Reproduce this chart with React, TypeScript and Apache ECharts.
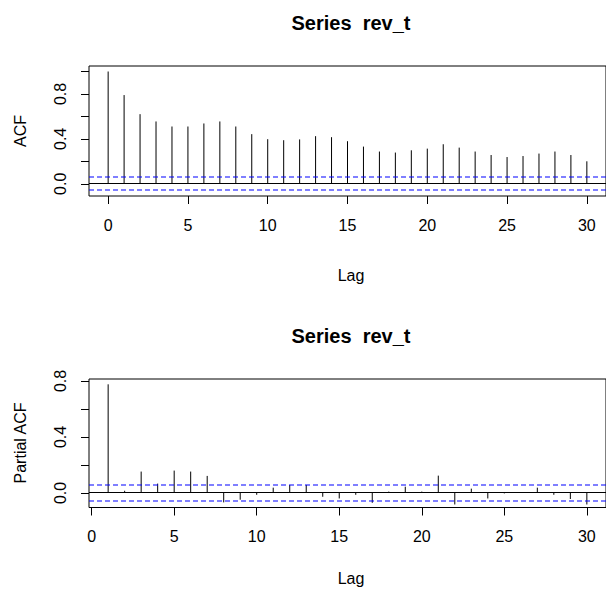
import React, { useEffect, useRef } from "react";
import * as echarts from "echarts";

const acfLags = [0, 1, 2, 3, 4, 5, 6, 7, 8, 9, 10, 11, 12, 13, 14, 15, 16, 17, 18, 19, 20, 21, 22, 23, 24, 25, 26, 27, 28, 29, 30];
const acfValues = [1.0, 0.79, 0.62, 0.555, 0.51, 0.51, 0.537, 0.555, 0.51, 0.442, 0.397, 0.388, 0.395, 0.424, 0.415, 0.379, 0.331, 0.287, 0.278, 0.298, 0.313, 0.352, 0.322, 0.287, 0.256, 0.238, 0.247, 0.269, 0.287, 0.256, 0.2];
const pacfLags = [1, 2, 3, 4, 5, 6, 7, 8, 9, 10, 11, 12, 13, 14, 15, 16, 17, 18, 19, 20, 21, 22, 23, 24, 25, 26, 27, 28, 29, 30];
const pacfValues = [0.776, 0.016, 0.153, 0.067, 0.16, 0.153, 0.122, -0.067, -0.048, -0.013, 0.038, 0.057, 0.057, -0.027, -0.039, -0.013, -0.07, 0.01, 0.045, 0.01, 0.124, -0.082, 0.031, -0.039, -0.003, 0.004, 0.038, -0.013, -0.043, -0.082];
const ciBound = 0.06;
const xTickValues = [0, 5, 10, 15, 20, 25, 30];
const acfYTicks = [0, 0.2, 0.4, 0.6, 0.8, 1.0];
const pacfYTicks = [0, 0.2, 0.4, 0.6, 0.8];
const yLabelValues = [0, 0.4, 0.8];
const titleText = "Series  rev_t";

const FONT = "'Liberation Sans', Arial, Helvetica, sans-serif";

function stemRender(params: any, api: any) {
  const x = api.value(0);
  const y = api.value(1);
  const p0 = api.coord([x, 0]);
  const p1 = api.coord([x, y]);
  return {
    type: "line",
    shape: { x1: p0[0], y1: p0[1], x2: p1[0], y2: p1[1] },
    style: { stroke: "#000", lineWidth: 1 },
  };
}

function makeXAxis(gridIndex: number, min: number, max: number) {
  return {
    type: "value",
    gridIndex,
    min,
    max,
    position: "bottom",
    axisLine: { show: false, onZero: false },
    splitLine: { show: false },
    axisTick: {
      show: true,
      inside: false,
      length: 8,
      customValues: xTickValues,
      lineStyle: { color: "#000", width: 1 },
    },
    axisLabel: {
      show: true,
      customValues: xTickValues,
      margin: 21,
      fontSize: 16,
      fontFamily: FONT,
      color: "#000",
      formatter: (v: number) => String(v),
    },
  };
}

function makeYAxis(gridIndex: number, min: number, max: number, ticks: number[]) {
  return {
    type: "value",
    gridIndex,
    min,
    max,
    position: "left",
    axisLine: { show: false, onZero: false },
    splitLine: { show: false },
    axisTick: {
      show: true,
      inside: false,
      length: 8,
      customValues: ticks,
      lineStyle: { color: "#000", width: 1 },
    },
    axisLabel: {
      show: true,
      customValues: yLabelValues,
      rotate: 90,
      margin: 21,
      fontSize: 16,
      fontFamily: FONT,
      color: "#000",
      formatter: (v: number) => v.toFixed(1),
    },
  };
}

const X_EXTENTS = [
  [-1.2, 31.2],
  [-0.16, 31.16],
];

export default function App() {
  const ref = useRef<HTMLDivElement>(null);

  useEffect(() => {
    if (!ref.current) return;
    const chart = echarts.init(ref.current, null, { renderer: "svg" });

    const textStyle = (text: string, size: number, bold = false) => ({
      text,
      fill: "#000",
      font: `${bold ? "bold " : ""}${size}px ${FONT}`,
      textAlign: "center",
      textVerticalAlign: "middle",
    });

    const texts = [
      { type: "text", x: 351, y: 23, style: textStyle(titleText, 20, true) },
      { type: "text", x: 351, y: 275, style: textStyle("Lag", 16) },
      { type: "text", x: 20, y: 131, rotation: Math.PI / 2, style: textStyle("ACF", 16) },
      { type: "text", x: 351, y: 336, style: textStyle(titleText, 20, true) },
      { type: "text", x: 351, y: 578, style: textStyle("Lag", 16) },
      { type: "text", x: 20, y: 443, rotation: Math.PI / 2, style: textStyle("Partial ACF", 16) },
    ];

    chart.setOption({
      animation: false,
      backgroundColor: "#fff",
      grid: [
        { left: 89, top: 66, width: 524, height: 130, show: true, borderColor: "#000", borderWidth: 1, backgroundColor: "transparent" },
        { left: 89, top: 379, width: 525, height: 128.5, show: true, borderColor: "#000", borderWidth: 1, backgroundColor: "transparent" },
      ],
      xAxis: [makeXAxis(0, X_EXTENTS[0][0], X_EXTENTS[0][1]), makeXAxis(1, X_EXTENTS[1][0], X_EXTENTS[1][1])],
      yAxis: [
        makeYAxis(0, -0.109, 1.049, acfYTicks),
        makeYAxis(1, -0.1036, 0.814, pacfYTicks),
      ],
      graphic: texts,
      series: [
        {
          type: "custom",
          name: "ACF",
          xAxisIndex: 0,
          yAxisIndex: 0,
          renderItem: stemRender,
          data: acfLags.map((l, i) => [l, acfValues[i]]),
        },
        {
          type: "custom",
          name: "Partial ACF",
          xAxisIndex: 1,
          yAxisIndex: 1,
          renderItem: stemRender,
          data: pacfLags.map((l, i) => [l, pacfValues[i]]),
        },
      ],
    });

    // reference lines (zero + confidence bounds), positioned through the axes' scales
    const refGraphics: any[] = [];
    [0, 1].forEach((g) => {
      const levels = [
        { v: 0, dashed: false },
        { v: ciBound, dashed: true },
        { v: -ciBound, dashed: true },
      ];
      levels.forEach(({ v, dashed }) => {
        const a = chart.convertToPixel({ xAxisIndex: g, yAxisIndex: g }, [X_EXTENTS[g][0], v]) as number[];
        const b = chart.convertToPixel({ xAxisIndex: g, yAxisIndex: g }, [X_EXTENTS[g][1], v]) as number[];
        const y = dashed ? Math.round(a[1]) : Math.round(a[1] - 0.5) + 0.5;
        refGraphics.push({
          type: "line",
          silent: true,
          z: dashed ? 10 : 9,
          shape: { x1: a[0], y1: y, x2: b[0], y2: y },
          style: dashed
            ? { stroke: "rgb(0,0,255)", lineWidth: 1.2, lineDash: [5, 3], fill: null }
            : { stroke: "rgb(0,0,0)", lineWidth: 1, fill: null },
        });
      });
    });
    chart.setOption({ graphic: [...texts, ...refGraphics] });

    return () => chart.dispose();
  }, []);

  return (
    <div
      ref={ref}
      style={{ position: "absolute", left: 0, top: 0, width: 606, height: 589, background: "#fff" }}
    />
  );
}
